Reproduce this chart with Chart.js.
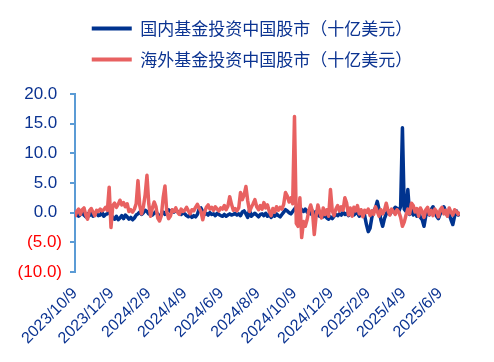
<!DOCTYPE html>
<html>
<head>
<meta charset="utf-8">
<script src="https://cdn.jsdelivr.net/npm/chart.js@4"></script>
<style>
  html, body { margin: 0; padding: 0; background: #fff; }
</style>
</head>
<body>
<canvas id="chart" width="494" height="362"></canvas>
<script>
// sampled every 3 calendar days
const dates = [
  '2023/10/9','2023/10/12','2023/10/15','2023/10/18','2023/10/21','2023/10/24','2023/10/27','2023/10/30',
  '2023/11/2','2023/11/5','2023/11/8','2023/11/11','2023/11/14','2023/11/17','2023/11/20','2023/11/23','2023/11/26','2023/11/29',
  '2023/12/2','2023/12/5','2023/12/8','2023/12/11','2023/12/14','2023/12/17','2023/12/20','2023/12/23','2023/12/26','2023/12/29',
  '2024/1/1','2024/1/4','2024/1/7','2024/1/10','2024/1/13','2024/1/16','2024/1/19','2024/1/22','2024/1/25','2024/1/28','2024/1/31',
  '2024/2/3','2024/2/6','2024/2/9','2024/2/12','2024/2/15','2024/2/18','2024/2/21','2024/2/24','2024/2/27',
  '2024/3/1','2024/3/4','2024/3/7','2024/3/10','2024/3/13','2024/3/16','2024/3/19','2024/3/22','2024/3/25','2024/3/28','2024/3/31',
  '2024/4/3','2024/4/6','2024/4/9','2024/4/12','2024/4/15','2024/4/18','2024/4/21','2024/4/24','2024/4/27','2024/4/30',
  '2024/5/3','2024/5/6','2024/5/9','2024/5/12','2024/5/15','2024/5/18','2024/5/21','2024/5/24','2024/5/27','2024/5/30',
  '2024/6/2','2024/6/5','2024/6/8','2024/6/11','2024/6/14','2024/6/17','2024/6/20','2024/6/23','2024/6/26','2024/6/29',
  '2024/7/2','2024/7/5','2024/7/8','2024/7/11','2024/7/14','2024/7/17','2024/7/20','2024/7/23','2024/7/26','2024/7/29',
  '2024/8/1','2024/8/4','2024/8/7','2024/8/10','2024/8/13','2024/8/16','2024/8/19','2024/8/22','2024/8/25','2024/8/28','2024/8/31',
  '2024/9/3','2024/9/6','2024/9/9','2024/9/12','2024/9/15','2024/9/18','2024/9/21','2024/9/24','2024/9/27','2024/9/30',
  '2024/10/3','2024/10/6','2024/10/9','2024/10/12','2024/10/15','2024/10/18','2024/10/21','2024/10/24','2024/10/27','2024/10/30',
  '2024/11/2','2024/11/5','2024/11/8','2024/11/11','2024/11/14','2024/11/17','2024/11/20','2024/11/23','2024/11/26','2024/11/29',
  '2024/12/2','2024/12/5','2024/12/8','2024/12/11','2024/12/14','2024/12/17','2024/12/20','2024/12/23','2024/12/26','2024/12/29',
  '2025/1/1','2025/1/4','2025/1/7','2025/1/10','2025/1/13','2025/1/16','2025/1/19','2025/1/22','2025/1/25','2025/1/28','2025/1/31',
  '2025/2/3','2025/2/6','2025/2/9','2025/2/12','2025/2/15','2025/2/18','2025/2/21','2025/2/24','2025/2/27',
  '2025/3/2','2025/3/5','2025/3/8','2025/3/11','2025/3/14','2025/3/17','2025/3/20','2025/3/23','2025/3/26','2025/3/29',
  '2025/4/1','2025/4/4','2025/4/7','2025/4/10','2025/4/13','2025/4/16','2025/4/19','2025/4/22','2025/4/25','2025/4/28',
  '2025/5/1','2025/5/4','2025/5/7','2025/5/10','2025/5/13','2025/5/16','2025/5/19','2025/5/22','2025/5/25','2025/5/28','2025/5/31',
  '2025/6/3','2025/6/6','2025/6/9','2025/6/12','2025/6/15','2025/6/18','2025/6/21','2025/6/24','2025/6/27','2025/6/30',
  '2025/7/3','2025/7/6','2025/7/9','2025/7/12'
];

// 国内基金 (十亿美元)
const domestic = [
  -0.5, -0.2, -0.6, -0.3, 0.1, -0.4, -0.7, -0.2, -0.5, 0.0,
  -0.6, -0.3, -0.1, -0.5, -0.4, 0.1, -0.6, -0.3, -0.2, 0.2,
  -0.3, -0.8, -1.1, -0.6, -1.2, -0.9, -0.5, -1.0, -0.4, -0.7,
  -1.1, -0.8, -1.2, -0.9, -0.4, -0.2, 0.1, -0.3, 0.0, 0.4,
  0.2, -0.2, 0.1, -0.4, -0.1, 0.2, -0.3, -0.6, -0.2, 0.1,
  -0.3, 0.3, 0.5, 0.2, 0.4, 0.1, 0.5, 0.2, -0.1, -0.3,
  0.0, -0.2, -0.5, -0.7, -0.4, -0.8, -0.5, -0.7, -0.3, 0.6,
  0.8, 0.2, -0.3, -0.1, -0.4, 0.0, -0.3, -0.2, -0.5, -0.1,
  -0.3, -0.5, -0.6, -0.3, -0.6, -0.4, -0.2, -0.4, -0.3, -0.1,
  -0.4, -0.2, -0.5, 0.1, 0.3, -0.2, -0.8, 0.4, -0.6, -0.3,
  -0.1, -0.4, -0.7, -0.3, -0.2, -0.5, -0.1, -0.6, -0.3, -0.8,
  -0.4, -0.6, -0.2, -0.5, -0.7, -0.3, 0.1, 0.5, 0.3, 0.0,
  -0.2, 0.2, 0.6, 1.0, 0.7, 0.9, 0.5, 0.2, 0.6, 0.1,
  0.4, -0.2, 0.3, -0.3, 0.2, -0.4, -0.6, -0.2, -0.7, -0.5,
  -0.9, -1.1, -0.7, -1.0, -0.6, -0.3, -0.5, -0.2, -0.4, 0.1,
  -0.3, -0.1, -0.5, -0.2, 0.2, -0.4, -0.1, 0.0, -0.6, -0.3,
  0.2, -0.5, -2.0, -3.2, -2.6, -0.8, 0.3, 0.8, 1.9, 0.6,
  -1.2, -2.3, -1.0, -0.2, 0.4, -0.3, 0.2, 0.5, 0.9, 0.7,
  0.2, 1.0, 14.3, 0.6, 0.2, 3.9, -0.3, 0.5, -0.4, 0.2,
  -0.6, 0.3, -0.8, -1.2, -2.3, -0.5, 0.2, -0.4, 0.5, 1.0,
  0.3, -0.6, -1.0, -0.2, 0.4, 1.0, 0.2, -0.5, -0.3, -1.2,
  -2.0, -0.6, 0.3, -0.4, -0.2
];

// 海外基金 (十亿美元)
const overseas = [
  -0.7, 0.2, 0.6, -0.3, 0.5, 0.8, -0.4, -1.1, 0.3, 0.7,
  0.1, -0.5, 0.4, 0.2, 0.6, 0.3, 0.5, 0.9, 0.4, 4.3,
  -2.5, 1.2, 1.6, 0.9, 1.4, 2.1, 1.3, 1.7, 1.0, 1.5,
  0.2, 0.5, 0.1, 0.6, 1.5, 5.4, 1.2, -0.2, 1.0, 3.0,
  6.3, 1.5, -0.6, 0.8, 1.8, 1.0, -0.9, -1.4, -0.5, 2.5,
  4.5, 0.2, -1.0, -0.6, 0.5, 0.2, 0.8, 0.1, -0.3, 0.6,
  0.2, 0.4, 0.9, 0.3, -0.2, 0.5, 0.3, 0.9, 1.4, 0.8,
  0.2, -1.2, 0.1, 0.9, 1.3, 0.6, 0.9, 0.4, 1.0, 0.6,
  0.3, 0.8, 0.6, 1.2, 0.5, 1.1, 2.7, 1.4, 0.4, 0.7,
  0.3, 0.8, 3.4, 2.2, 3.0, 4.4, 2.0, 0.2, 0.9, 1.5,
  2.2, 1.0, 0.5, 1.2, 0.6, 1.7, 0.8, 1.3, 0.2, -0.5,
  0.7, 0.1, 1.0, 0.4, 0.9, 0.6, 1.4, 3.4, 2.8, 1.8,
  2.5, 1.5, 16.2, -1.8, -2.3, 2.5, -4.2, -1.5, -2.3, -1.2,
  0.4, 1.3, 0.2, -3.7, -0.6, 1.3, 0.1, -0.9, 0.8, -0.3,
  0.5, -0.6, 3.9, 0.3, -0.5, 0.6, 1.2, 0.3, 1.0, 0.4,
  2.5, 1.6, -0.4, 0.8, -0.6, 0.9, 0.3, 1.2, -0.2, 0.5,
  -0.7, 0.4, 0.0, 0.6, -0.5, 0.3, -0.3, 1.0, 0.2, -0.6,
  0.5, -0.2, 0.4, 1.6, 0.3, -0.4, 0.6, 0.2, -0.3, 0.5,
  0.1, -0.8, -2.3, -1.6, -0.4, 0.6, -0.2, 1.6, 1.2, 0.1,
  0.7, -0.6, 0.8, 0.2, -0.8, 0.5, 0.9, -0.3, 0.4, -0.5,
  0.6, 0.2, -0.7, 0.5, 0.9, -0.2, 0.4, -0.6, 0.8, 0.1,
  -0.4, 0.5, 0.2, -0.3, 0.1
];

const tickLabels = ['2023/10/9', '2023/12/9', '2024/2/9', '2024/4/9', '2024/6/9', '2024/8/9',
                    '2024/10/9', '2024/12/9', '2025/2/9', '2025/4/9', '2025/6/9'];

const seriesNames = ['国内基金投资中国股市（十亿美元）', '海外基金投资中国股市（十亿美元）'];

const BLUE = '#00338f';
const RED = '#e86161';
const TEXT_BLUE = '#0b3391';
const AXIS = '#5b9bd5';

const dayMs = 86400000;
const parseDate = s => {
    const [y, m, d] = s.split('/').map(Number);
    return Date.UTC(y, m - 1, d);
};
const t0 = parseDate(dates[0]);
const toDay = s => Math.round((parseDate(s) - t0) / dayMs);

const xs = dates.map(toDay);
const tickDays = tickLabels.map(toDay);

// extra space under the legend, and center it on the whole canvas
const legendGap = {
    id: 'legendGap',
    beforeInit(chart) {
        const fit = chart.legend.fit;
        chart.legend.fit = function () {
            fit.call(this);
            this.height += 16;
        };
    },
    afterLayout(chart) {
        chart.legend.left = 10;
        chart.legend.right = chart.width;
    }
};

const ctx = document.getElementById('chart').getContext('2d');

new Chart(ctx, {
    type: 'line',
    data: {
        datasets: [
            {
                label: seriesNames[0],
                data: xs.map((x, i) => ({ x, y: domestic[i] })),
                borderColor: BLUE,
                backgroundColor: BLUE,
                borderWidth: 3.5,
                pointRadius: 0,
                borderJoinStyle: 'round',
                order: 1
            },
            {
                label: seriesNames[1],
                data: xs.map((x, i) => ({ x, y: overseas[i] })),
                borderColor: RED,
                backgroundColor: RED,
                borderWidth: 3.5,
                pointRadius: 0,
                borderJoinStyle: 'round',
                order: 0
            }
        ]
    },
    plugins: [legendGap],
    options: {
        responsive: false,
        animation: false,
        layout: { padding: { top: 6, right: 34, left: 0, bottom: 0 } },
        plugins: {
            tooltip: { enabled: false },
            legend: {
                position: 'top',
                labels: {
                    boxWidth: 40,
                    boxHeight: 4,
                    padding: 14,
                    color: TEXT_BLUE,
                    font: { size: 17, lineHeight: 1.2, family: '"Noto Sans CJK SC", "Liberation Sans", sans-serif' },
                    sort: (a, b) => a.datasetIndex - b.datasetIndex,
                    generateLabels: chart => Chart.defaults.plugins.legend.labels.generateLabels(chart)
                        .map(item => Object.assign(item, { lineWidth: 0 }))
                }
            }
        },
        scales: {
            x: {
                type: 'linear',
                min: 0,
                max: xs[xs.length - 1],
                afterBuildTicks: scale => {
                    scale.ticks = tickDays.map(v => ({ value: v }));
                },
                afterFit: scale => { scale.height = 90; },
                grid: { display: false, drawTicks: false },
                border: { display: false },
                ticks: {
                    autoSkip: false,
                    minRotation: 45,
                    maxRotation: 45,
                    padding: 12,
                    color: TEXT_BLUE,
                    font: { size: 16, family: '"Liberation Sans", Arial, sans-serif' },
                    callback: value => {
                        const k = tickDays.indexOf(value);
                        return k >= 0 ? tickLabels[k] : '';
                    }
                }
            },
            y: {
                min: -10,
                max: 20,
                afterFit: scale => { scale.width = 75; },
                grid: {
                    drawOnChartArea: false,
                    tickLength: 5,
                    color: AXIS,
                    lineWidth: 2
                },
                border: { color: AXIS, width: 2 },
                ticks: {
                    stepSize: 5,
                    padding: 8,
                    font: { size: 17, family: '"Liberation Sans", Arial, sans-serif' },
                    color: c => c.tick.value < 0 ? '#ff0000' : TEXT_BLUE,
                    callback: value => value < 0
                        ? '(' + Math.abs(value).toFixed(1) + ')'
                        : value.toFixed(1) + ' '
                }
            }
        }
    }
});
</script>
</body>
</html>
